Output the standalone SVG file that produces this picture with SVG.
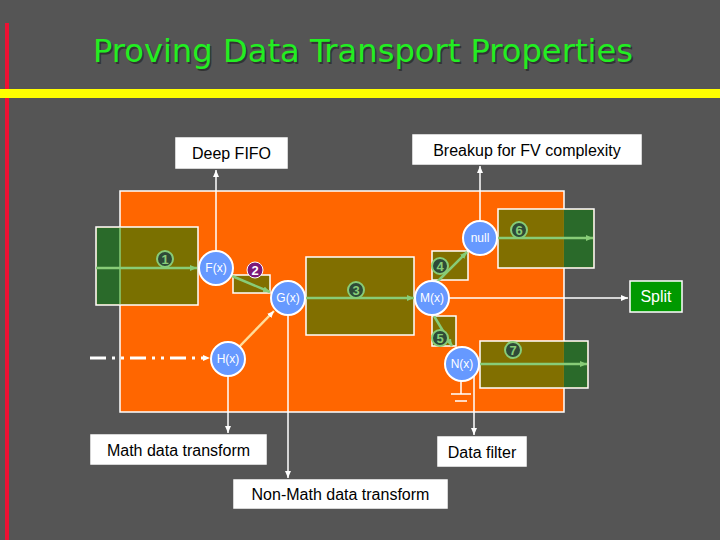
<svg xmlns="http://www.w3.org/2000/svg" width="720" height="540" viewBox="0 0 720 540">
<defs>
<style>
.lbl{fill:#fff;stroke:#fff;stroke-width:1.5}
.lt{font-family:"Liberation Sans",Arial,sans-serif;font-size:16px;fill:#000}
.c{fill:#6699ff;stroke:#fff;stroke-width:2}
.ct{font-family:"Liberation Sans",Arial,sans-serif;font-size:12px;fill:#fff;text-anchor:middle}
.box{fill:#7a7000;fill-opacity:0.95;stroke:#fff;stroke-width:1.5}
.g{stroke:#88cc77;stroke-width:2.5;fill:none}
.w{stroke:#fff;stroke-width:1.5;fill:none}
.num{fill:#2e4a38;stroke:#88cc77;stroke-width:2}
.nt{font-family:"Liberation Sans",Arial,sans-serif;font-size:13px;font-weight:bold;fill:#88cc77;text-anchor:middle}
</style>
<marker id="ag" markerWidth="8" markerHeight="8" refX="7" refY="4" orient="auto" markerUnits="userSpaceOnUse"><path d="M0,1 L7,4 L0,7z" fill="#88cc77"/></marker>
<marker id="aw" markerWidth="8" markerHeight="8" refX="7" refY="4" orient="auto" markerUnits="userSpaceOnUse"><path d="M0,1 L7,4 L0,7z" fill="#fff"/></marker>
</defs>
<rect width="720" height="540" fill="#555555"/>
<rect x="5" y="23" width="4" height="517" fill="#ee1133"/>
<rect x="0" y="89" width="720" height="9" fill="#ffff00"/>
<text x="93" y="62" font-family="'DejaVu Sans Condensed','Liberation Sans',Arial,sans-serif" font-stretch="condensed" font-size="32" fill="#333" textLength="540" lengthAdjust="spacingAndGlyphs" transform="translate(1.5,1.5)">Proving Data Transport Properties</text>
<text x="93" y="62" font-family="'DejaVu Sans Condensed','Liberation Sans',Arial,sans-serif" font-stretch="condensed" font-size="32" fill="#22ee22" textLength="540" lengthAdjust="spacingAndGlyphs">Proving Data Transport Properties</text>

<rect id="frame" x="120" y="191" width="444" height="221" fill="#ff6600" stroke="#fff" stroke-width="1.5"/>

<g id="queues">
<rect x="96" y="227" width="102" height="78" fill="#7a7000" stroke="#fff" stroke-width="1.5"/>
<rect x="97" y="228" width="23" height="76" fill="#2a6a2a"/>
<line x1="120" y1="228" x2="120" y2="304" stroke="#88cc77" stroke-width="1.5"/>
<rect x="233" y="275" width="37" height="18" class="box"/>
<rect x="306" y="257" width="108" height="78" class="box"/>
<rect x="432" y="251" width="36" height="29" class="box"/>
<rect x="432" y="316" width="24" height="30" class="box"/>
<rect x="498" y="209" width="96" height="59" class="box"/>
<rect x="564" y="210" width="29" height="57" fill="#2a6a2a"/>
<rect x="480" y="341" width="108" height="47" class="box"/>
<rect x="564" y="342" width="23" height="45" fill="#2a6a2a"/>
</g>

<g id="connectors">
<line class="g" x1="96" y1="268" x2="197" y2="268" marker-end="url(#ag)"/>
<line class="g" x1="232" y1="276" x2="270" y2="292" marker-end="url(#ag)"/>
<line class="g" x1="305" y1="298" x2="414" y2="298" marker-end="url(#ag)"/>
<line class="g" x1="436" y1="283" x2="467" y2="252" marker-end="url(#ag)"/>
<line class="g" x1="434" y1="316" x2="452" y2="346" marker-end="url(#ag)"/>
<line class="g" x1="497" y1="238" x2="593" y2="238" marker-end="url(#ag)"/>
<line class="g" x1="479" y1="364" x2="587" y2="364" marker-end="url(#ag)"/>
<line x1="239" y1="347" x2="274" y2="311" stroke="#ffdd99" stroke-width="2.5" marker-end="url(#aw)"/>
<line x1="90" y1="358" x2="210" y2="358" stroke="#fff" stroke-width="3" stroke-dasharray="16,6,3,6,3,6" marker-end="url(#aw)"/>
<line class="w" x1="449" y1="298" x2="628" y2="298" marker-end="url(#aw)"/>
<line class="w" x1="216" y1="251" x2="216" y2="170" marker-end="url(#aw)"/>
<line class="w" x1="480" y1="221" x2="480" y2="166" marker-end="url(#aw)"/>
<line class="w" x1="228" y1="376" x2="228" y2="433" marker-end="url(#aw)"/>
<line class="w" x1="288" y1="315" x2="288" y2="478" marker-end="url(#aw)"/>
<line class="w" x1="474" y1="375" x2="474" y2="435" marker-end="url(#aw)"/>
<path class="w" d="M461 381V394M451 394H471M455 401H467"/>
</g>

<g id="numbers">
<circle class="num" cx="165" cy="259" r="8"/><text class="nt" x="165" y="264">1</text>
<circle cx="255" cy="270" r="8" fill="#7a1a7a" stroke="#fff" stroke-width="1"/><text class="nt" x="255" y="275" style="fill:#fff">2</text>
<circle class="num" cx="356" cy="290" r="8"/><text class="nt" x="356" y="295">3</text>
<circle class="num" cx="440" cy="266" r="8"/><text class="nt" x="440" y="271">4</text>
<circle class="num" cx="440" cy="338" r="8"/><text class="nt" x="440" y="343">5</text>
<circle class="num" cx="519" cy="230" r="8"/><text class="nt" x="519" y="235">6</text>
<circle class="num" cx="513" cy="350" r="8"/><text class="nt" x="513" y="355">7</text>
</g>

<g id="F"><circle class="c" cx="216" cy="268" r="17"/><text class="ct" x="216" y="272">F(x)</text></g>
<g id="G"><circle class="c" cx="288" cy="298" r="17"/><text class="ct" x="288" y="302">G(x)</text></g>
<g id="H"><circle class="c" cx="228" cy="359" r="17"/><text class="ct" x="228" y="363">H(x)</text></g>
<g id="M"><circle class="c" cx="432" cy="298" r="17"/><text class="ct" x="432" y="302">M(x)</text></g>
<g id="N"><circle class="c" cx="462" cy="364" r="17"/><text class="ct" x="462" y="368">N(x)</text></g>
<g id="null"><circle class="c" cx="480" cy="238" r="17"/><text class="ct" x="480" y="242">null</text></g>

<g id="deepfifo"><rect class="lbl" x="176" y="138" width="111" height="30"/><text class="lt" x="231.5" y="159" text-anchor="middle">Deep FIFO</text></g>
<g id="breakup"><rect class="lbl" x="413" y="135" width="228" height="29"/><text class="lt" x="527" y="156" text-anchor="middle">Breakup for FV complexity</text></g>
<g id="split"><rect x="630" y="281" width="52" height="31" fill="#009900" stroke="#fff" stroke-width="1.5"/><text x="656" y="302" font-family="'Liberation Sans',Arial,sans-serif" font-size="16" fill="#fff" text-anchor="middle">Split</text></g>
<g id="math"><rect class="lbl" x="91" y="435" width="175" height="29"/><text class="lt" x="178.5" y="456" text-anchor="middle">Math data transform</text></g>
<g id="nonmath"><rect class="lbl" x="234" y="480" width="213" height="28"/><text class="lt" x="340.5" y="500" text-anchor="middle">Non-Math data transform</text></g>
<g id="filter"><rect class="lbl" x="438" y="437" width="88" height="29"/><text class="lt" x="482" y="458" text-anchor="middle">Data filter</text></g>
</svg>
